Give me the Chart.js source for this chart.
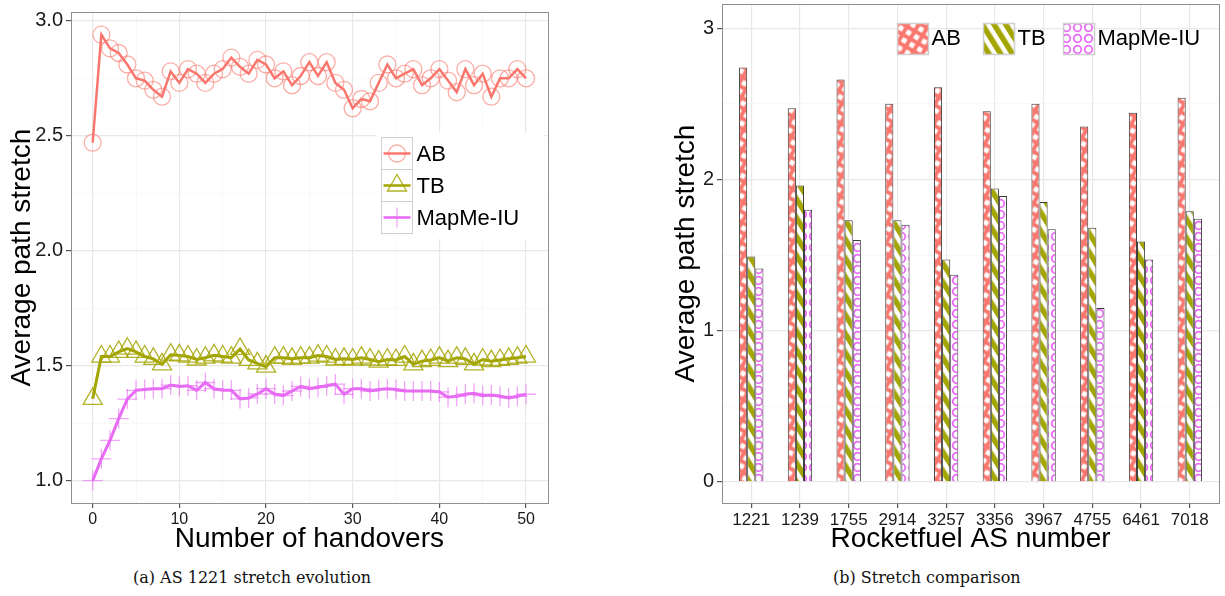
<!DOCTYPE html>
<html>
<head>
<meta charset="utf-8">
<script src="https://cdn.jsdelivr.net/npm/chart.js@4.4.1/dist/chart.umd.min.js"></script>
<style>
  body { margin: 0; background: #fff; width: 1225px; height: 596px; overflow: hidden; position: relative; }
  #left { position: absolute; left: 0; top: 0; }
  #right { position: absolute; left: 610px; top: 0; }
  .cap { position: absolute; top: 568px; font-family: "DejaVu Serif", serif; font-size: 16px; line-height: 20px;
         color: #111; white-space: nowrap; }
</style>
</head>
<body>
<canvas id="left" width="560" height="556"></canvas>
<canvas id="right" width="615" height="556"></canvas>
<div class="cap" style="left:133px">(a) AS 1221 stretch evolution</div>
<div class="cap" style="left:833px">(b) Stretch comparison</div>
<script>
// (a) stretch vs number of handovers
const handovers = [0,1,2,3,4,5,6,7,8,9,10,11,12,13,14,15,16,17,18,19,20,21,22,23,24,25,
  26,27,28,29,30,31,32,33,34,35,36,37,38,39,40,41,42,43,44,45,46,47,48,49,50]
const abStretch = [2.47,2.94,2.88,2.86,2.81,2.75,2.74,2.70,2.67,2.78,
  2.73,2.79,2.77,2.73,2.77,2.79,2.84,2.80,2.77,2.83,
  2.81,2.75,2.78,2.72,2.76,2.82,2.76,2.82,2.73,2.70,
  2.62,2.66,2.65,2.73,2.81,2.75,2.77,2.79,2.72,2.75,
  2.79,2.74,2.69,2.79,2.72,2.77,2.67,2.75,2.75,2.79,2.75]
const tbStretch = [1.356,1.54,1.54,1.56,1.574,1.56,1.54,1.53,1.506,1.548,
  1.545,1.54,1.527,1.535,1.545,1.54,1.535,1.573,1.525,1.51,
  1.496,1.535,1.535,1.53,1.535,1.535,1.544,1.54,1.527,1.53,
  1.527,1.535,1.527,1.518,1.527,1.525,1.54,1.506,1.52,1.525,
  1.535,1.52,1.535,1.53,1.506,1.527,1.52,1.525,1.53,1.535,1.54]
const mapmeStretch = [1.00,1.095,1.175,1.27,1.355,1.393,1.397,1.40,1.40,1.416,
  1.41,1.413,1.393,1.427,1.40,1.393,1.393,1.356,1.36,1.377,
  1.40,1.377,1.37,1.39,1.41,1.40,1.406,1.413,1.42,1.376,
  1.40,1.40,1.39,1.397,1.40,1.397,1.39,1.39,1.39,1.39,
  1.386,1.363,1.367,1.376,1.38,1.37,1.373,1.367,1.36,1.367,1.376]
const handoverTicks = [0,10,20,30,40,50]
const stretchTicks = [1.0,1.5,2.0,2.5,3.0]

// (b) stretch per AS
const asNumbers = ['1221','1239','1755','2914','3257','3356','3967','4755','6461','7018']
const abBars = [2.74,2.47,2.66,2.50,2.61,2.45,2.50,2.35,2.44,2.54]
const tbBars = [1.49,1.96,1.73,1.73,1.47,1.94,1.85,1.68,1.59,1.79]
const mapmeBars = [1.41,1.80,1.60,1.70,1.37,1.89,1.67,1.15,1.47,1.74]
const barTicks = [0,1,2,3]

const seriesNames = ['AB','TB','MapMe-IU']
const colors = ['#F8766D','#A3A500','#E76BF3']

Chart.defaults.font.family = '"Liberation Sans", Arial, sans-serif'
Chart.defaults.color = '#1a1a1a'

// majors plus ggplot-like minor lines half way between
const withMinors = (major) => {
  const out = []
  major.forEach((v, i) => {
    out.push(v)
    if (i < major.length - 1) out.push((v + major[i + 1]) / 2)
  })
  return out
}
const isMajor = (major, c) => c.tick && major.includes(c.tick.value)
const gridOpts = (major) => ({
  color: c => isMajor(major, c) ? '#e8e8e8' : '#f5f5f5',
  lineWidth: c => isMajor(major, c) ? 1.2 : 0.7,
  tickColor: c => isMajor(major, c) ? '#555' : 'rgba(0,0,0,0)',
  tickLength: 5
})

const panelBorder = {
  id: 'panelBorder',
  afterDatasetsDraw(chart) {
    const a = chart.chartArea, ctx = chart.ctx
    ctx.save()
    ctx.strokeStyle = '#8f8f8f'
    ctx.lineWidth = 1
    ctx.strokeRect(Math.round(a.left) + 0.5, Math.round(a.top) + 0.5,
      Math.round(a.right - a.left), Math.round(a.bottom - a.top))
    ctx.restore()
  }
}

// ---------- left chart ----------
const lineSeries = [abStretch, tbStretch, mapmeStretch]
const markers = [
  { style: 'circle', radius: 8.5, alpha: 0.6 },
  { style: 'triangle', radius: 11, alpha: 0.85 },
  { style: 'cross', radius: 10, alpha: 0.6 }
]
const rgba = (hex, a) => {
  const n = parseInt(hex.slice(1), 16)
  return `rgba(${n >> 16},${(n >> 8) & 255},${n & 255},${a})`
}

const lineLegend = {
  id: 'lineLegend',
  afterDraw(chart) {
    const ctx = chart.ctx
    ctx.save()
    ctx.fillStyle = '#fff'
    ctx.fillRect(376, 133, 168, 106)
    chart.data.datasets.forEach((ds, i) => {
      const x = 381.5, y = 137.5 + i * 32
      ctx.strokeStyle = '#d0d0d0'
      ctx.lineWidth = 1
      ctx.strokeRect(x, y, 31, 32)
      ctx.strokeStyle = ds.borderColor
      ctx.lineWidth = 2.5
      ctx.beginPath()
      ctx.moveTo(x + 2, y + 16)
      ctx.lineTo(x + 29, y + 16)
      ctx.stroke()
      ctx.strokeStyle = ds.pointBorderColor
      ctx.fillStyle = 'rgba(0,0,0,0)'
      ctx.lineWidth = ds.pointBorderWidth
      Chart.helpers.drawPoint(ctx, { pointStyle: ds.pointStyle, radius: ds.pointRadius,
        borderWidth: ds.pointBorderWidth, rotation: 0 }, x + 15.5, y + 16)
      ctx.fillStyle = '#000'
      ctx.font = '22px "Liberation Sans", Arial, sans-serif'
      ctx.textBaseline = 'middle'
      ctx.fillText(ds.label, x + 35, y + 17)
    })
    ctx.restore()
  }
}

new Chart(document.getElementById('left'), {
  type: 'line',
  data: {
    datasets: lineSeries.map((vals, i) => ({
      label: seriesNames[i],
      data: vals.map((v, j) => ({ x: handovers[j], y: v })),
      borderColor: colors[i],
      borderWidth: i === 0 ? 2.5 : 3,
      tension: 0,
      pointStyle: markers[i].style,
      pointRadius: markers[i].radius,
      pointBorderColor: rgba(colors[i], markers[i].alpha),
      pointBackgroundColor: 'rgba(0,0,0,0)',
      pointBorderWidth: 1.3
    }))
  },
  options: {
    responsive: false,
    animation: false,
    layout: { padding: { left: 5, top: 3, right: 8, bottom: 0 } },
    plugins: { legend: { display: false }, tooltip: { enabled: false } },
    scales: {
      x: {
        type: 'linear', min: -2.5, max: 52.5,
        afterBuildTicks: s => { s.ticks = withMinors(handoverTicks).map(v => ({ value: v })) },
        afterFit: s => { s.height = 53; s.paddingLeft = 0; s.paddingRight = 0 },
        ticks: { autoSkip: false, maxRotation: 0, padding: 2, font: { size: 16 },
          callback: v => handoverTicks.includes(v) ? String(v) : '' },
        grid: gridOpts(handoverTicks),
        border: { display: false },
        title: { display: true, text: 'Number of handovers', font: { size: 28 }, color: '#000', padding: 0 }
      },
      y: {
        min: 0.903, max: 3.037,
        afterBuildTicks: s => { s.ticks = withMinors(stretchTicks).map(v => ({ value: v })) },
        afterFit: s => { s.width = 66; s.paddingTop = 0; s.paddingBottom = 0 },
        ticks: { autoSkip: false, padding: 3, font: { size: 20 },
          callback: v => stretchTicks.includes(v) ? v.toFixed(1) : '' },
        grid: gridOpts(stretchTicks),
        border: { display: false },
        title: { display: true, text: 'Average path stretch', font: { size: 28 }, color: '#000', padding: 0 }
      }
    }
  },
  plugins: [panelBorder, lineLegend]
})

// ---------- right chart ----------
function makePattern(kind) {
  const c = document.createElement('canvas')
  const ctx = c.getContext('2d')
  let angle = 0
  if (kind === 0) {
    c.width = c.height = 9
    ctx.fillStyle = colors[0]
    ctx.fillRect(0, 0, 9, 9)
    ctx.fillStyle = '#fff'
    ctx.fillRect(2.5, 2.5, 5, 5)
    angle = 30
  } else if (kind === 1) {
    c.width = c.height = 10
    ctx.fillStyle = '#fff'
    ctx.fillRect(0, 0, 10, 10)
    ctx.fillStyle = colors[1]
    ctx.fillRect(0, 0, 5.5, 10)
    angle = -32
  } else {
    c.width = c.height = 11
    ctx.fillStyle = '#fff'
    ctx.fillRect(0, 0, 11, 11)
    ctx.strokeStyle = colors[2]
    ctx.lineWidth = 1.8
    ctx.beginPath()
    ctx.arc(5.5, 5.5, 3.8, 0, Math.PI * 2)
    ctx.stroke()
  }
  const p = ctx.createPattern(c, 'repeat')
  if (angle) p.setTransform(new DOMMatrix().rotateSelf(angle))
  return p
}
const patterns = [0, 1, 2].map(makePattern)
const barSeries = [abBars, tbBars, mapmeBars]

const barLegend = {
  id: 'barLegend',
  afterDraw(chart) {
    const ctx = chart.ctx
    const boxX = [287.5, 373.5, 453.5]
    ctx.save()
    chart.data.datasets.forEach((ds, i) => {
      ctx.fillStyle = ds.backgroundColor
      ctx.fillRect(boxX[i], 23.5, 31, 31)
      ctx.strokeStyle = '#cfcfcf'
      ctx.lineWidth = 1.5
      ctx.strokeRect(boxX[i], 23.5, 31, 31)
      ctx.fillStyle = '#000'
      ctx.font = '22px "Liberation Sans", Arial, sans-serif'
      ctx.textBaseline = 'middle'
      ctx.fillText(ds.label, boxX[i] + 34, 39)
    })
    ctx.restore()
  }
}

new Chart(document.getElementById('right'), {
  type: 'bar',
  data: {
    datasets: barSeries.map((vals, i) => ({
      label: seriesNames[i],
      data: vals.map((v, j) => ({ x: j + 1, y: v })),
      backgroundColor: patterns[i],
      borderColor: '#3c3c3c',
      borderWidth: 1,
      categoryPercentage: 0.5,
      barPercentage: 1
    }))
  },
  options: {
    responsive: false,
    animation: false,
    layout: { padding: { left: 59, top: 4, right: 6, bottom: 0 } },
    plugins: { legend: { display: false }, tooltip: { enabled: false } },
    scales: {
      x: {
        type: 'linear', min: 0.4, max: 10.6, offset: false,
        afterBuildTicks: s => { s.ticks = asNumbers.map((a, i) => ({ value: i + 1 })) },
        afterFit: s => { s.height = 53; s.paddingLeft = 0; s.paddingRight = 0 },
        ticks: { autoSkip: false, maxRotation: 0, padding: 2, font: { size: 17 },
          callback: v => asNumbers[v - 1] },
        grid: { color: '#e8e8e8', lineWidth: 1.2, tickColor: '#555', tickLength: 5, offset: false },
        border: { display: false },
        title: { display: true, text: 'Rocketfuel AS number', font: { size: 28 }, color: '#000', padding: 0 }
      },
      y: {
        min: -0.14, max: 3.16,
        afterBuildTicks: s => { s.ticks = withMinors(barTicks).map(v => ({ value: v })) },
        afterFit: s => { s.width = 53; s.paddingTop = 0; s.paddingBottom = 0 },
        ticks: { autoSkip: false, padding: 3, font: { size: 20 },
          callback: v => barTicks.includes(v) ? String(v) : '' },
        grid: gridOpts(barTicks),
        border: { display: false },
        title: { display: true, text: 'Average path stretch', font: { size: 28 }, color: '#000', padding: 0 }
      }
    }
  },
  plugins: [panelBorder, barLegend]
})
</script>
</body>
</html>
